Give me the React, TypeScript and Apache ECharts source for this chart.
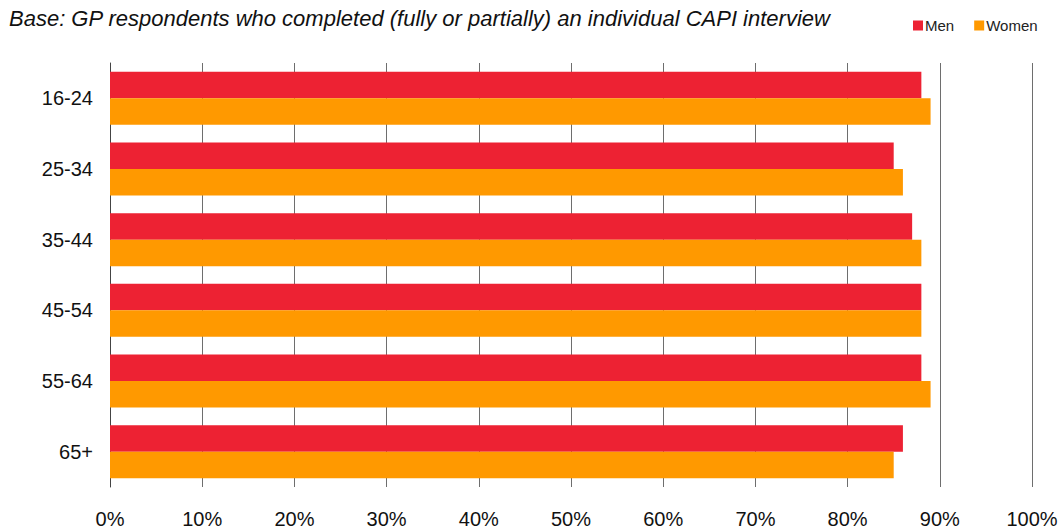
import React, { useEffect, useRef } from "react";
import * as echarts from "echarts";

const categories = ["16-24", "25-34", "35-44", "45-54", "55-64", "65+"];
const menValues = [88, 85, 87, 88, 88, 86];
const womenValues = [89, 86, 88, 88, 89, 85];
const xTicks = [0, 10, 20, 30, 40, 50, 60, 70, 80, 90, 100];
const titleText = "Base: GP respondents who completed (fully or partially) an individual CAPI interview";

const FONT = "'Liberation Sans', Arial, sans-serif";

export default function App() {
  const ref = useRef<HTMLDivElement>(null);
  useEffect(() => {
    if (!ref.current) return;
    const chart = echarts.init(ref.current, undefined, { renderer: "svg" });
    chart.setOption({
      animation: false,
      backgroundColor: "#ffffff",
      title: {
        text: titleText,
        left: 4,
        top: 2,
        textStyle: { fontFamily: FONT, fontStyle: "italic", fontWeight: "normal", fontSize: 22, color: "#111" },
      },
      legend: {
        left: 908,
        top: 13,
        itemWidth: 10,
        itemHeight: 10,
        itemGap: 20,
        icon: "rect",
        textStyle: { fontFamily: FONT, fontSize: 15, color: "#222", padding: [0, 0, 0, -3] },
        data: ["Men", "Women"],
      },
      grid: { left: 110, right: 31, top: 63, bottom: 44, containLabel: false },
      xAxis: {
        type: "value",
        min: xTicks[0],
        max: xTicks[xTicks.length - 1],
        interval: 10,
        axisLine: { show: false },
        axisTick: { show: false },
        splitLine: { show: true, lineStyle: { color: "#6e6e6e", width: 1 } },
        axisLabel: { formatter: "{value}%", fontFamily: FONT, fontSize: 20, color: "#111", margin: 22 },
      },
      yAxis: {
        type: "category",
        data: categories,
        inverse: true,
        axisLine: { show: true, lineStyle: { color: "#444", width: 1 } },
        axisTick: { show: false },
        axisLabel: { fontFamily: FONT, fontSize: 20, color: "#111", margin: 17 },
      },
      series: [
        {
          name: "Men",
          type: "bar",
          data: menValues,
          barGap: "0%",
          barCategoryGap: "25%",
          itemStyle: { color: "#ED2233" },
        },
        {
          name: "Women",
          type: "bar",
          data: womenValues,
          barGap: "0%",
          barCategoryGap: "25%",
          itemStyle: { color: "#FF9900" },
        },
      ],
    });
    return () => chart.dispose();
  }, []);
  return <div ref={ref} style={{ position: "absolute", left: 0, top: 0, width: 1063, height: 531 }} />;
}
